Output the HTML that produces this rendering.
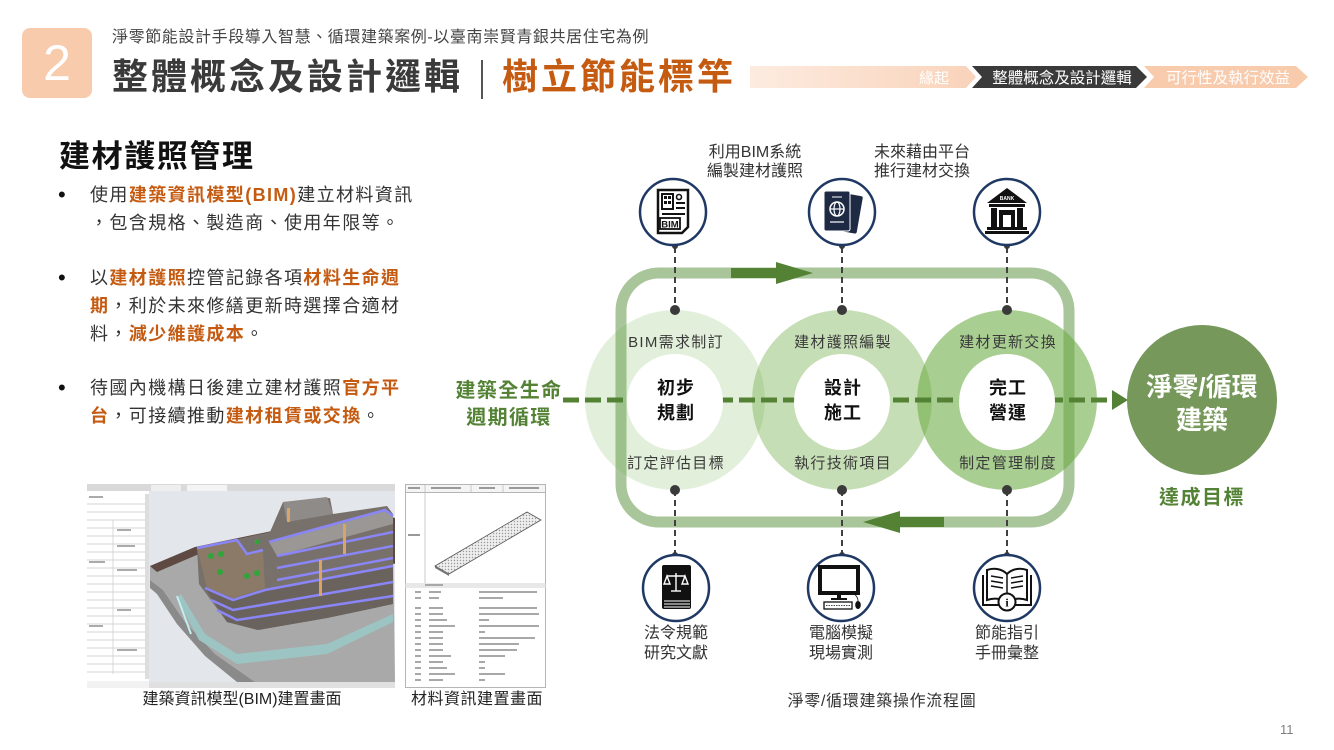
<!DOCTYPE html>
<html><head><meta charset="utf-8">
<style>
*{margin:0;padding:0;box-sizing:border-box}
body{width:1334px;height:750px;background:#fff;position:relative;overflow:hidden;font-family:"Liberation Sans","Noto Sans CJK TC",sans-serif;color:#333}
.a{position:absolute;white-space:nowrap}
.o{color:#c55a11;font-weight:bold}
.bl{position:absolute;left:58px;font-size:22px;line-height:28px;color:#111;font-family:"Liberation Sans",sans-serif}
.bt{position:absolute;left:90px;font-size:18px;line-height:28px;letter-spacing:1.4px;color:#333;white-space:nowrap}
</style></head><body>

<!-- Header -->
<div class="a" style="left:22px;top:28px;width:70px;height:70px;background:#f8cbad;border-radius:8px;color:#fff;font-size:50px;line-height:70px;text-align:center;">2</div>
<div class="a" style="left:112px;top:28px;font-size:16px;line-height:20px;letter-spacing:0.6px;color:#444">淨零節能設計手段導入智慧、循環建築案例-以臺南崇賢青銀共居住宅為例</div>
<div class="a" style="left:112px;top:55px;font-size:36px;line-height:44px;font-weight:bold;letter-spacing:3px;color:#3a3a3a">整體概念及設計邏輯</div>
<div class="a" style="left:481px;top:60px;width:2px;height:39px;background:#555"></div>
<div class="a" style="left:502px;top:55px;font-size:36px;line-height:44px;font-weight:bold;letter-spacing:3px;color:#c55a11">樹立節能標竿</div>

<!-- Breadcrumb -->
<svg class="a" style="left:740px;top:60px" width="594" height="34">
  <defs>
    <linearGradient id="pg" x1="0" x2="1" y1="0" y2="0">
      <stop offset="0" stop-color="#fdebe0"/>
      <stop offset="1" stop-color="#f9d3ba"/>
    </linearGradient>
  </defs>
  <polygon points="10,6 226,6 236,17 226,28 10,28" fill="url(#pg)"/>
  <text x="194" y="23" font-size="15" fill="#fff" text-anchor="middle" font-family="Liberation Sans, Noto Sans CJK TC, sans-serif">緣起</text>
  <polygon points="232,6 396,6 407,17 396,28 232,28 242,17" fill="#3a3a3a"/>
  <text x="322" y="23" font-size="15.5" fill="#fff" text-anchor="middle" font-family="Liberation Sans, Noto Sans CJK TC, sans-serif">整體概念及設計邏輯</text>
  <polygon points="404,6 556,6 568,17 556,28 404,28 414,17" fill="#f8cbad"/>
  <text x="488" y="23" font-size="15.5" fill="#fff" text-anchor="middle" font-family="Liberation Sans, Noto Sans CJK TC, sans-serif">可行性及執行效益</text>
</svg>

<!-- Left text -->
<div class="a" style="left:59px;top:139px;font-size:31px;line-height:36px;font-weight:bold;letter-spacing:1.6px;color:#111">建材護照管理</div>

<div class="bl" style="top:181px">•</div>
<div class="bt" style="top:181px">使用<span class="o">建築資訊模型(BIM)</span>建立材料資訊<br>，包含規格、製造商、使用年限等。</div>

<div class="bl" style="top:264px">•</div>
<div class="bt" style="top:264px">以<span class="o">建材護照</span>控管記錄各項<span class="o">材料生命週</span><br><span class="o">期</span>，利於未來修繕更新時選擇合適材<br>料，<span class="o">減少維護成本</span>。</div>

<div class="bl" style="top:374px">•</div>
<div class="bt" style="top:374px">待國內機構日後建立建材護照<span class="o">官方平</span><br><span class="o">台</span>，可接續推動<span class="o">建材租賃或交換</span>。</div>

<!-- BIM screenshot -->
<svg class="a" style="left:87px;top:484px" width="308" height="204">
  <rect width="308" height="204" fill="#f2f2f2"/>
  <rect x="0" y="0" width="308" height="7" fill="#d9d9d9"/>
  <rect x="64" y="1" width="30" height="6" fill="#eee"/>
  <rect x="100" y="1" width="40" height="6" fill="#f4f4f4"/>
  <rect x="0" y="7" width="62" height="190" fill="#fff"/>
  <g stroke="#c8c8c8" stroke-width="0.7">
    <line x1="0" y1="20" x2="60" y2="20"/><line x1="0" y1="28" x2="60" y2="28"/>
    <line x1="0" y1="36" x2="60" y2="36"/><line x1="0" y1="44" x2="60" y2="44"/>
    <line x1="0" y1="52" x2="60" y2="52"/><line x1="0" y1="60" x2="60" y2="60"/>
    <line x1="0" y1="68" x2="60" y2="68"/><line x1="0" y1="76" x2="60" y2="76"/>
    <line x1="0" y1="84" x2="60" y2="84"/><line x1="0" y1="92" x2="60" y2="92"/>
    <line x1="0" y1="100" x2="60" y2="100"/><line x1="0" y1="108" x2="60" y2="108"/>
    <line x1="0" y1="116" x2="60" y2="116"/><line x1="0" y1="124" x2="60" y2="124"/>
    <line x1="0" y1="132" x2="60" y2="132"/><line x1="0" y1="140" x2="60" y2="140"/>
    <line x1="0" y1="148" x2="60" y2="148"/><line x1="0" y1="156" x2="60" y2="156"/>
    <line x1="0" y1="164" x2="60" y2="164"/><line x1="0" y1="172" x2="60" y2="172"/>
    <line x1="0" y1="180" x2="60" y2="180"/><line x1="0" y1="188" x2="60" y2="188"/>
    <line x1="26" y1="36" x2="26" y2="190"/>
  </g>
  <g fill="#aaa">
    <rect x="2" y="12" width="14" height="2"/><rect x="30" y="45" width="14" height="2"/>
    <rect x="30" y="61" width="18" height="2"/><rect x="2" y="77" width="16" height="2"/>
    <rect x="30" y="85" width="20" height="2"/><rect x="30" y="125" width="14" height="2"/>
    <rect x="2" y="141" width="14" height="2"/><rect x="30" y="165" width="20" height="2"/>
  </g>
  <rect x="58" y="10" width="4" height="185" fill="#ddd"/>
  <rect x="62" y="7" width="246" height="192" fill="#e3e6ea"/>
  <!-- ground -->
  <polygon points="63,82 108,63 190,46 306,56 308,198 168,198 128,170 98,138 76,106 63,96" fill="#a9a9a9"/>
  <polygon points="63,96 76,106 98,138 128,170 168,198 150,198 118,172 90,140 70,110 63,104" fill="#8a8a8a"/>
  <polygon points="63,82 108,63 190,46 230,44 232,50 190,54 112,70 70,88" fill="#5e4a42"/>
  <polygon points="296,30 308,34 308,80 300,78" fill="#5e4a42"/>
  <polygon points="94,110 118,150 150,170 240,160 306,130 306,138 240,170 150,180 112,156 90,114" fill="#9cc4c2"/>
  <line x1="90" y1="112" x2="104" y2="150" stroke="#bff0ee" stroke-width="2"/>
  <!-- building -->
  <polygon points="110,64 183,48 196,18 243,14 246,30 300,22 306,30 306,120 240,134 171,146 140,138 112,100" fill="#78706b"/>
  <polygon points="110,64 150,56 160,70 176,66 178,104 146,114 120,104" fill="#8b7a68"/>
  <polygon points="182,58 298,26 306,32 306,40 190,72" fill="#9a9794"/>
  <polygon points="196,18 240,13 246,30 200,38" fill="#8f8b88"/>
  <polygon points="118,104 146,116 178,106 306,82 306,120 240,134 171,146 140,138" fill="#6a625d"/>
  <g stroke="#8a86f7" stroke-width="2.5" fill="none">
    <polyline points="110,64 150,56 160,70 176,66"/>
    <polyline points="182,58 298,26 306,32"/>
    <polyline points="118,104 146,116 178,106 306,82"/>
    <polyline points="124,116 146,126 306,98"/>
    <polyline points="130,126 150,136 306,112"/>
    <polyline points="190,72 306,48"/>
    <polyline points="190,84 306,62"/>
    <polyline points="190,96 306,74"/>
  </g>
  <g fill="#d9a36a"><rect x="256" y="40" width="3" height="30"/><rect x="232" y="76" width="3" height="36"/><rect x="200" y="24" width="3" height="14"/></g>
  <circle cx="124" cy="72" r="3" fill="#2fa53a"/><circle cx="134" cy="70" r="3" fill="#2fa53a"/>
  <circle cx="133" cy="88" r="3" fill="#2fa53a"/><circle cx="160" cy="92" r="3" fill="#2fa53a"/>
  <circle cx="170" cy="89" r="3" fill="#2fa53a"/><circle cx="170" cy="58" r="2.5" fill="#2fa53a"/>
  <rect x="62" y="198" width="246" height="6" fill="#e0e0e0"/>
</svg>

<!-- Material screenshot -->
<svg class="a" style="left:405px;top:484px" width="141" height="204">
  <defs>
    <pattern id="ht" width="3" height="3" patternUnits="userSpaceOnUse">
      <rect width="3" height="3" fill="#eee"/><circle cx="1.5" cy="1.5" r="0.7" fill="#999"/>
    </pattern>
  </defs>
  <rect x="0.5" y="0.5" width="140" height="203" fill="#fff" stroke="#b5b5b5"/>
  <rect x="0.5" y="0.5" width="140" height="8" fill="#f4f4f4" stroke="#b5b5b5"/>
  <g stroke="#b5b5b5" stroke-width="0.7"><line x1="20" y1="0" x2="20" y2="100"/><line x1="66" y1="0" x2="66" y2="8"/><line x1="98" y1="0" x2="98" y2="8"/></g>
  <g fill="#999"><rect x="3" y="3" width="12" height="2"/><rect x="26" y="3" width="30" height="2"/><rect x="74" y="3" width="16" height="2"/><rect x="104" y="3" width="30" height="2"/><rect x="3" y="50" width="12" height="2"/></g>
  <polygon points="30,82 122,28 136,36 44,90" fill="url(#ht)" stroke="#555" stroke-width="0.8"/>
  <polygon points="30,82 44,90 44,92 30,84" fill="#777"/>
  <rect x="0.5" y="99" width="140" height="5" fill="#e8e8e8"/>
  <g fill="#a8a8a8">
    <rect x="20" y="100" width="18" height="2"/>
    <rect x="10" y="107" width="6" height="2"/><rect x="24" y="107" width="12" height="2"/><rect x="74" y="107" width="58" height="2"/>
    <rect x="10" y="113" width="6" height="2"/><rect x="24" y="113" width="10" height="2"/><rect x="74" y="113" width="24" height="2"/>
    <rect x="10" y="123" width="6" height="2"/><rect x="24" y="123" width="14" height="2"/><rect x="74" y="123" width="58" height="2"/>
    <rect x="10" y="129" width="6" height="2"/><rect x="24" y="129" width="14" height="2"/><rect x="74" y="129" width="60" height="2"/>
    <rect x="10" y="135" width="6" height="2"/><rect x="24" y="135" width="18" height="2"/><rect x="74" y="135" width="10" height="2"/>
    <rect x="10" y="141" width="6" height="2"/><rect x="24" y="141" width="26" height="2"/><rect x="74" y="141" width="60" height="2"/>
    <rect x="10" y="147" width="6" height="2"/><rect x="24" y="147" width="14" height="2"/><rect x="74" y="147" width="6" height="2"/>
    <rect x="10" y="153" width="6" height="2"/><rect x="24" y="153" width="14" height="2"/><rect x="74" y="153" width="56" height="2"/>
    <rect x="10" y="159" width="6" height="2"/><rect x="24" y="159" width="14" height="2"/><rect x="74" y="159" width="40" height="2"/>
    <rect x="10" y="165" width="6" height="2"/><rect x="24" y="165" width="14" height="2"/><rect x="74" y="165" width="38" height="2"/>
    <rect x="10" y="171" width="6" height="2"/><rect x="24" y="171" width="22" height="2"/><rect x="74" y="171" width="26" height="2"/>
    <rect x="10" y="177" width="6" height="2"/><rect x="24" y="177" width="14" height="2"/><rect x="74" y="177" width="6" height="2"/>
    <rect x="10" y="183" width="6" height="2"/><rect x="24" y="183" width="18" height="2"/><rect x="74" y="183" width="6" height="2"/>
    <rect x="10" y="189" width="6" height="2"/><rect x="24" y="189" width="26" height="2"/><rect x="74" y="189" width="26" height="2"/>
    <rect x="10" y="195" width="6" height="2"/><rect x="24" y="195" width="14" height="2"/><rect x="74" y="195" width="6" height="2"/>
  </g>
</svg>

<div class="a" style="left:138px;top:689px;width:208px;text-align:center;font-size:16px;line-height:22px;color:#222">建築資訊模型(BIM)建置畫面</div>
<div class="a" style="left:410px;top:689px;width:134px;text-align:center;font-size:16px;line-height:22px;letter-spacing:0.5px;color:#222">材料資訊建置畫面</div>

<!-- Diagram -->
<svg class="a" style="left:0;top:0" width="1334" height="750" font-family="Liberation Sans, Noto Sans CJK TC, sans-serif">
  <rect x="621" y="273" width="448" height="249" rx="38" ry="38" fill="none" stroke="#a9c69b" stroke-width="11"/>
  <rect x="731" y="268" width="48" height="10" fill="#548235"/>
  <polygon points="776,262 813,273 776,284" fill="#548235"/>
  <rect x="897" y="517" width="47" height="10" fill="#548235"/>
  <polygon points="900,511 863,522 900,533" fill="#548235"/>

  <circle cx="675" cy="400" r="90" fill="#70ad47" fill-opacity="0.2"/>
  <circle cx="842" cy="400" r="90" fill="#70ad47" fill-opacity="0.4"/>
  <circle cx="1007" cy="400" r="90" fill="#70ad47" fill-opacity="0.6"/>

  <line x1="563" y1="400" x2="1114" y2="400" stroke="#548235" stroke-width="5" stroke-dasharray="16 6"/>
  <polygon points="1112,390 1128,400 1112,410" fill="#548235"/>

  <circle cx="675" cy="402" r="48" fill="#fff"/>
  <circle cx="842" cy="402" r="48" fill="#fff"/>
  <circle cx="1007" cy="402" r="48" fill="#fff"/>

  <g stroke="#404040" stroke-width="2" stroke-dasharray="6 4">
    <line x1="675" y1="247" x2="675" y2="310"/>
    <line x1="842" y1="247" x2="842" y2="310"/>
    <line x1="1007" y1="247" x2="1007" y2="310"/>
    <line x1="675" y1="490" x2="675" y2="554"/>
    <line x1="842" y1="490" x2="842" y2="554"/>
    <line x1="1007" y1="490" x2="1007" y2="554"/>
  </g>
  <g fill="#3a3a3a">
    <circle cx="675" cy="310" r="5"/><circle cx="842" cy="310" r="5"/><circle cx="1007" cy="310" r="5"/>
    <circle cx="675" cy="490" r="5"/><circle cx="842" cy="490" r="5"/><circle cx="1007" cy="490" r="5"/>
    <circle cx="675" cy="246" r="3"/><circle cx="842" cy="246" r="3"/><circle cx="1007" cy="246" r="3"/>
    <circle cx="675" cy="555" r="3"/><circle cx="842" cy="555" r="3"/><circle cx="1007" cy="555" r="3"/>
  </g>

  <g font-size="15" fill="#3a3a3a" text-anchor="middle" letter-spacing="1.3">
    <text x="676" y="347">BIM需求制訂</text>
    <text x="676" y="468">訂定評估目標</text>
    <text x="843" y="347">建材護照編製</text>
    <text x="843" y="468">執行技術項目</text>
    <text x="1008" y="347">建材更新交換</text>
    <text x="1008" y="468">制定管理制度</text>
  </g>
  <g font-size="18" fill="#111" font-weight="bold" text-anchor="middle" letter-spacing="1">
    <text x="676" y="394">初步</text><text x="676" y="419">規劃</text>
    <text x="843" y="394">設計</text><text x="843" y="419">施工</text>
    <text x="1008" y="394">完工</text><text x="1008" y="419">營運</text>
  </g>

  <g font-size="20" fill="#548235" font-weight="bold" text-anchor="middle" letter-spacing="1.4">
    <text x="509" y="397">建築全生命</text>
    <text x="509" y="424">週期循環</text>
  </g>

  <circle cx="1202" cy="400" r="75" fill="#76985a"/>
  <g font-size="26" fill="#fff" font-weight="bold" text-anchor="middle">
    <text x="1202" y="396">淨零/循環</text>
    <text x="1202" y="429">建築</text>
  </g>
  <text x="1202" y="504" font-size="20" fill="#548235" font-weight="bold" text-anchor="middle" letter-spacing="1.5">達成目標</text>

  <g font-size="16" fill="#333" text-anchor="middle">
    <text x="755" y="157">利用BIM系統</text>
    <text x="755" y="176">編製建材護照</text>
    <text x="922" y="157">未來藉由平台</text>
    <text x="922" y="176">推行建材交換</text>
  </g>

  <g font-size="16" fill="#333" text-anchor="middle">
    <text x="676" y="638">法令規範</text><text x="676" y="658">研究文獻</text>
    <text x="841" y="638">電腦模擬</text><text x="841" y="658">現場實測</text>
    <text x="1007" y="638">節能指引</text><text x="1007" y="658">手冊彙整</text>
    <text x="882" y="706" letter-spacing="0.7">淨零/循環建築操作流程圖</text>
  </g>

  <g transform="translate(673,212)">
    <circle r="33" fill="#fff" stroke="#1f3864" stroke-width="2.5"/>
    <path d="M-15,-22 H15 V15 L9,21 H-15 Z" fill="none" stroke="#111" stroke-width="2.5"/>
    <rect x="-11" y="-18" width="11" height="15" fill="none" stroke="#111" stroke-width="2"/>
    <g fill="#111"><rect x="-9" y="-16" width="3" height="3"/><rect x="-5" y="-16" width="3" height="3"/><rect x="-9" y="-11" width="3" height="3"/><rect x="-5" y="-11" width="3" height="3"/></g>
    <circle cx="6" cy="-15" r="2.5" fill="none" stroke="#111" stroke-width="1.6"/>
    <line x1="3" y1="-9" x2="12" y2="-9" stroke="#111" stroke-width="2"/>
    <line x1="3" y1="-4" x2="12" y2="-4" stroke="#111" stroke-width="2"/>
    <line x1="-11" y1="2" x2="12" y2="2" stroke="#111" stroke-width="2"/>
    <rect x="-13" y="6" width="20" height="11" fill="none" stroke="#111" stroke-width="1.8"/>
    <text x="-3" y="15.5" font-size="9.5" font-weight="bold" fill="#111" text-anchor="middle">BIM</text>
  </g>

  <g transform="translate(842,212)">
    <circle r="33" fill="#fff" stroke="#1f3864" stroke-width="2.5"/>
    <rect x="-6" y="-19" width="24" height="38" rx="2" fill="#1e2a44" transform="rotate(10)"/>
    <rect x="-18" y="-21" width="26" height="40" rx="2" fill="#1e2a44" stroke="#fff" stroke-width="1"/>
    <circle cx="-5" cy="-3" r="7" fill="none" stroke="#fff" stroke-width="1.5"/>
    <ellipse cx="-5" cy="-3" rx="3" ry="7" fill="none" stroke="#fff" stroke-width="1.2"/>
    <line x1="-12" y1="-3" x2="2" y2="-3" stroke="#fff" stroke-width="1.2"/>
    <line x1="-12" y1="10" x2="2" y2="10" stroke="#fff" stroke-width="1.2"/>
    <line x1="-10" y1="-15" x2="0" y2="-15" stroke="#fff" stroke-width="1"/>
  </g>

  <g transform="translate(1007,212)">
    <circle r="33" fill="#fff" stroke="#1f3864" stroke-width="2.5"/>
    <polygon points="-20,-9 0,-24 20,-9" fill="#111"/>
    <text x="0" y="-12" font-size="5" font-weight="bold" fill="#fff" text-anchor="middle">BANK</text>
    <rect x="-18" y="-8" width="36" height="3" fill="#111"/>
    <rect x="-16" y="-4" width="6" height="19" fill="#111"/>
    <rect x="10" y="-4" width="6" height="19" fill="#111"/>
    <rect x="-8" y="-2" width="16" height="17" fill="#111"/>
    <rect x="-4" y="3" width="8" height="12" fill="#fff"/>
    <rect x="-20" y="15" width="40" height="3" fill="#111"/>
    <rect x="-22" y="19" width="44" height="3" fill="#111"/>
  </g>

  <g transform="translate(676,588)">
    <circle r="33" fill="#fff" stroke="#1f3864" stroke-width="2.5"/>
    <rect x="-14" y="-23" width="29" height="44" rx="2" fill="#111"/>
    <g stroke="#fff" stroke-width="1"><line x1="-12" y1="13" x2="14" y2="13"/><line x1="-12" y1="16" x2="14" y2="16"/><line x1="-12" y1="19" x2="14" y2="19"/></g>
    <g stroke="#fff" stroke-width="1.4" fill="none">
      <line x1="0" y1="-15" x2="0" y2="3"/>
      <line x1="-9" y1="-12" x2="9" y2="-12"/>
      <line x1="-5" y1="3" x2="5" y2="3"/>
      <path d="M-9,-12 L-12,-4 H-6 Z M9,-12 L6,-4 H12 Z"/>
    </g>
  </g>

  <g transform="translate(841,588)">
    <circle r="33" fill="#fff" stroke="#1f3864" stroke-width="2.5"/>
    <rect x="-21" y="-21" width="38" height="26" fill="#fff" stroke="#111" stroke-width="4"/>
    <rect x="-4" y="6" width="4" height="4" fill="#111"/>
    <rect x="-10" y="10" width="16" height="2" fill="#111"/>
    <rect x="-17" y="14" width="28" height="7" fill="#fff" stroke="#111" stroke-width="1.3"/>
    <line x1="-15" y1="17.5" x2="9" y2="17.5" stroke="#111" stroke-width="0.8" stroke-dasharray="1.5 1"/>
    <ellipse cx="17" cy="17" rx="2.8" ry="4" fill="#111"/>
    <path d="M17,13 C17,8 14,8 14,6" fill="none" stroke="#111" stroke-width="0.8"/>
  </g>

  <g transform="translate(1007,588)">
    <circle r="33" fill="#fff" stroke="#1f3864" stroke-width="2.5"/>
    <path d="M0,-14 C-6,-20 -14,-20 -20,-18 V12 C-14,10 -6,10 0,14 C6,10 14,10 20,12 V-18 C14,-20 6,-20 0,-14 Z" fill="#fff" stroke="#111" stroke-width="2"/>
    <path d="M-24,-13 V17 H-5 M24,-13 V17 H5" fill="none" stroke="#111" stroke-width="2"/>
    <line x1="0" y1="-14" x2="0" y2="12" stroke="#111" stroke-width="1.5"/>
    <g stroke="#111" stroke-width="1.5">
      <line x1="-16" y1="-12" x2="-4" y2="-10"/><line x1="-16" y1="-7" x2="-4" y2="-5"/><line x1="-16" y1="-2" x2="-4" y2="0"/>
      <line x1="4" y1="-10" x2="16" y2="-12"/><line x1="4" y1="-5" x2="16" y2="-7"/><line x1="4" y1="0" x2="16" y2="-2"/>
    </g>
    <circle cx="0" cy="14" r="8.5" fill="#fff" stroke="#111" stroke-width="2"/>
    <text x="0" y="18.5" font-size="12" font-weight="bold" fill="#111" text-anchor="middle" font-family="Liberation Serif, serif">i</text>
  </g>
</svg>

<div class="a" style="left:1280px;top:722px;font-size:13px;color:#7f7f7f">11</div>
</body></html>
